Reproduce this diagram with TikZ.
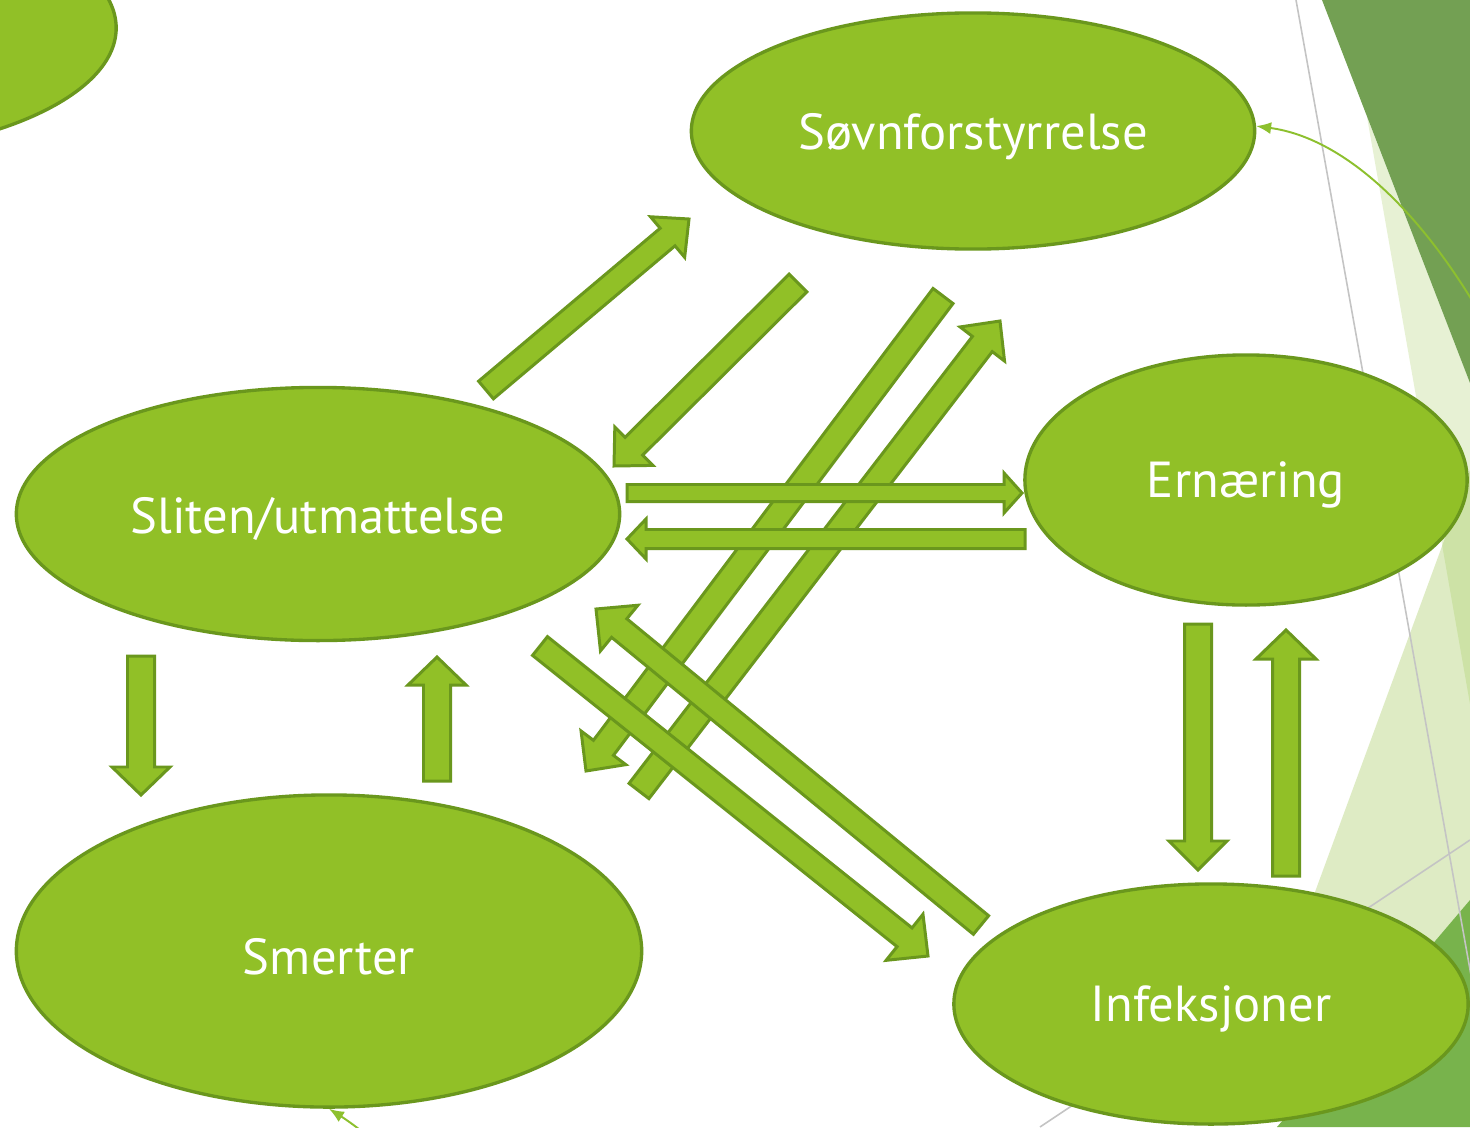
\documentclass[tikz,border=0pt]{standalone}
\usepackage{fontspec}
\newfontfamily\labelfont{PT Sans}
\usetikzlibrary{shapes.geometric,calc,arrows.meta}

\definecolor{leaf}{HTML}{91C027}
\definecolor{leafline}{HTML}{6A971D}
\definecolor{facetdark}{HTML}{73A053}
\definecolor{facetmid}{HTML}{78B34C}
\definecolor{facettint}{HTML}{92C03C}
\definecolor{facetgray}{HTML}{C4C4C4}
\definecolor{thinlink}{HTML}{8DC02E}

\tikzset{
  bubble/.style={ellipse, draw=leafline, fill=leaf, line width=0.95pt, inner sep=0pt,
    text=white, font=\labelfont\fontsize{14.4}{17}\selectfont},
  blockarrow/.style={draw=leafline, fill=leaf, line width=0.85pt, line join=miter},
  thinlinkstyle/.style={draw=thinlink, line width=0.55pt,
    -{Latex[length=0.15cm,width=0.12cm]}},
  facetline/.style={draw=facetgray, line width=0.45pt}
}

% label text sits slightly below the ellipse centre (box size kept unchanged)
\newcommand\bubbletext[1]{\raisebox{-1.5pt}[\height][\depth]{#1}}

% block arrow: #1 tail, #2 tip, #3 half shaft width, #4 half head width, #5 head length
\newcommand\blockarrow[5]{%
  \coordinate (ba-base) at ($(#2)!#5!(#1)$);
  \draw[blockarrow] ($(#1)!#3!90:(#2)$) -- ($(ba-base)!#3!90:(#2)$)
    -- ($(ba-base)!#4!90:(#2)$) -- (#2) -- ($(ba-base)!#4!-90:(#2)$)
    -- ($(ba-base)!#3!-90:(#2)$) -- ($(#1)!#3!-90:(#2)$) -- cycle;
}

\begin{document}
\begin{tikzpicture}[x=0.01cm,y=-0.01cm]
\clip (0,0) rectangle (1470,1127);
\fill[white] (0,0) rectangle (1470,1127);

% facet background on the right
\fill[facettint, opacity=0.22] (1367,117) -- (1470,383) -- (1470,704) -- cycle;
\fill[facettint, opacity=0.30] (1470,470) -- (1290,960) -- (1470,960) -- cycle;
\fill[facetdark] (1322,0) -- (1470,0) -- (1470,383) -- cycle;
\fill[facetmid] (1470,900) -- (1277,1127) -- (1470,1127) -- cycle;
\draw[facetline] (1296,0) -- (1488,1070);
\draw[facetline] (1040,1127) -- (1470,840);

% thin curved links
\coordinate (linkA) at (1500,350);
\coordinate (linkB) at (400,1165);

% nodes
\node[bubble, minimum width=6.06cm, minimum height=2.56cm] (topleft) at (-187,28) {};
\node[bubble, minimum width=5.63cm, minimum height=2.36cm] (sovn) at (973,131) {\bubbletext{Søvnforstyrrelse}};
\node[bubble, minimum width=6.03cm, minimum height=2.53cm] (sliten) at (318,514) {\bubbletext{Sliten/utmattelse}};
\node[bubble, minimum width=4.42cm, minimum height=2.50cm] (ernaering) at (1246,480) {\bubbletext{Ernæring}};
\node[bubble, minimum width=6.25cm, minimum height=3.12cm] (smerter) at (329,951) {\bubbletext{Smerter}};
\node[bubble, minimum width=5.14cm, minimum height=2.40cm] (infeksjoner) at (1211,1004) {\bubbletext{Infeksjoner}};

\draw[thinlinkstyle] (linkA) .. controls (1430,215) and (1345,138) .. (sovn.1);
\draw[thinlinkstyle] (linkB) .. controls (375,1140) and (350,1122) .. (smerter.south);

% arrow end points
\coordinate (slsvA) at (486,390);   \coordinate (slsvB) at (689,219);
\coordinate (svslA) at (798,283);   \coordinate (svslB) at (614,466);
\coordinate (svlowA) at (943,296);  \coordinate (svlowB) at (586,771);
\coordinate (lowsvA) at (639,791);  \coordinate (lowsvB) at (1000,321);
\coordinate (slinA) at (540,646);   \coordinate (slinB) at (928,956);
\coordinate (inslA) at (981,925);   \coordinate (inslB) at (596,609);
\coordinate (slerA) at (627,493);   \coordinate (slerB) at (1022,493);
\coordinate (erslA) at (1025,539);  \coordinate (erslB) at (627,539);
\coordinate (slsmA) at (141,656);   \coordinate (slsmB) at (141,795);
\coordinate (smslA) at (437,781);   \coordinate (smslB) at (437,657);
\coordinate (erinA) at (1198,624);  \coordinate (erinB) at (1198,870);
\coordinate (inerA) at (1286,876);  \coordinate (inerB) at (1286,630);

% long diagonals first, the rest on top
\blockarrow{svlowA}{svlowB}{0.125cm}{0.28cm}{0.29cm}
\blockarrow{lowsvA}{lowsvB}{0.125cm}{0.28cm}{0.29cm}
\blockarrow{slsvA}{slsvB}{0.115cm}{0.265cm}{0.28cm}
\blockarrow{svslA}{svslB}{0.125cm}{0.27cm}{0.28cm}
\blockarrow{slinA}{slinB}{0.12cm}{0.295cm}{0.30cm}
\blockarrow{inslA}{inslB}{0.12cm}{0.295cm}{0.30cm}
\blockarrow{slerA}{slerB}{0.085cm}{0.20cm}{0.18cm}
\blockarrow{erslA}{erslB}{0.095cm}{0.20cm}{0.19cm}
\blockarrow{slsmA}{slsmB}{0.135cm}{0.29cm}{0.28cm}
\blockarrow{smslA}{smslB}{0.135cm}{0.29cm}{0.28cm}
\blockarrow{erinA}{erinB}{0.135cm}{0.29cm}{0.29cm}
\blockarrow{inerA}{inerB}{0.135cm}{0.30cm}{0.29cm}
\end{tikzpicture}
\end{document}
